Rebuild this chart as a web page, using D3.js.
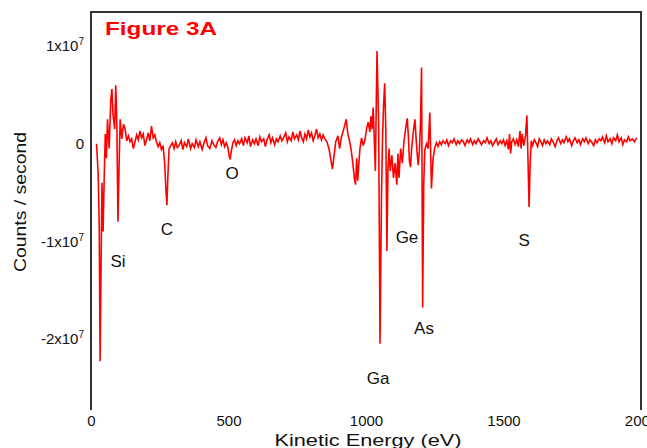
<!DOCTYPE html>
<html>
<head>
<meta charset="utf-8">
<script src="https://cdn.jsdelivr.net/npm/d3@7"></script>
<style>
	body { margin: 0; background: #fff; }
	svg { display: block; font-family: "Liberation Sans", Arial, sans-serif; }
</style>
</head>
<body>
<svg width="647" height="448"></svg>
<script>
// spectrum, counts in units of 1e6 counts / second
var energy = [
	20, 26, 30, 33, 36, 40, 44, 48, 52, 56, 60, 66, 72, 76, 80, 86, 90, 94, 98, 102,
	106, 112, 118, 124, 130, 136, 142, 148, 154, 160, 166, 172, 178, 184, 190, 196, 202, 208, 214, 220,
	226, 232, 238, 244, 250, 256, 262, 268, 272, 276, 280, 284, 290, 296, 302, 308, 314, 320, 328, 334,
	340, 348, 354, 362, 368, 376, 382, 390, 396, 404, 410, 418, 424, 432, 440, 446, 454, 460, 468, 474,
	480, 486, 492, 498, 502, 506, 510, 516, 522, 528, 534, 540, 548, 554, 560, 568, 574, 580, 588, 594,
	600, 608, 614, 620, 628, 634, 640, 648, 654, 660, 668, 674, 680, 688, 694, 700, 708, 714, 720, 728,
	734, 740, 748, 754, 760, 766, 772, 778, 784, 790, 796, 802, 808, 814, 820, 826, 832, 838, 844, 850,
	858, 866, 872, 878, 884, 890, 898, 904, 910, 916, 922, 928, 934, 940, 946, 952, 958, 962, 966, 970,
	974, 978, 984, 990, 996, 1002, 1008, 1014, 1018, 1022, 1026, 1030, 1034, 1040, 1046, 1051, 1056, 1060, 1064, 1068,
	1072, 1076, 1080, 1084, 1088, 1094, 1100, 1106, 1112, 1116, 1120, 1126, 1132, 1138, 1144, 1150, 1154, 1158, 1162, 1166,
	1172, 1178, 1182, 1186, 1190, 1194, 1198, 1202, 1206, 1210, 1214, 1220, 1226, 1232, 1238, 1244, 1250, 1256, 1262, 1268,
	1274, 1280, 1288, 1294, 1300, 1308, 1314, 1320, 1328, 1334, 1340, 1348, 1354, 1360, 1368, 1374, 1380, 1388, 1394, 1400,
	1408, 1414, 1420, 1428, 1434, 1440, 1448, 1454, 1460, 1468, 1474, 1480, 1488, 1494, 1500, 1506, 1512, 1518, 1522, 1526,
	1530, 1536, 1542, 1548, 1554, 1560, 1564, 1568, 1574, 1580, 1585, 1589, 1593, 1597, 1601, 1606, 1612, 1618, 1624, 1630,
	1636, 1642, 1648, 1654, 1660, 1668, 1674, 1680, 1688, 1694, 1700, 1708, 1714, 1720, 1728, 1734, 1740, 1748, 1754, 1760,
	1768, 1774, 1780, 1788, 1794, 1800, 1808, 1814, 1820, 1828, 1834, 1840, 1848, 1854, 1860, 1868, 1874, 1880, 1888, 1894,
	1900, 1908, 1914, 1920, 1928, 1934, 1940, 1948, 1954, 1960, 1968, 1976, 1984
];
var counts = [
	0.0, -3.0, -8.5, -22.3, -14.0, -4.0, -9.0, -3.5, 1.0, -1.5, 2.5, -0.5, 4.5, 5.6, 3.0, 1.5, 6.0, 2.0, -8.0, -2.5,
	2.5, 0.5, 2.0, 1.5, 0.3, 0.8, 0.2, 0.5, -0.5, 0.2, 0.9, 0.4, 1.3, 0.6, 1.0, -0.2, 0.4, 1.1, 0.3, 1.8,
	0.6, 0.9, 0.2, -0.3, 0.1, -0.6, -0.2, -2.0, -4.5, -6.3, -3.0, -0.5, -0.2, 0.1, -0.5, 0.2, -0.4, -0.2, 0.3, -0.6,
	0.1, -0.3, 0.5, -0.5, 0.0, -0.4, 0.4, -0.3, 0.2, -0.6, 0.0, 0.6, -0.2, -0.5, 0.3, -0.1, -0.4, 0.2, 0.6, -0.1,
	0.4, -0.3, 0.1, -0.4, -1.2, -1.6, -0.8, 0.1, 0.4, -0.2, 0.3, 0.0, 0.5, -0.2, 0.6, 0.1, 0.8, -0.3, 0.4, 0.0,
	0.5, -0.2, 0.7, 0.2, 0.5, -0.3, 0.4, 0.9, 0.1, 0.6, -0.1, 0.5, 0.2, 0.8, 0.3, 0.6, 1.1, 0.2, 0.7, 0.3,
	1.2, 0.5, 0.9, 0.4, 1.3, 0.6, 0.2, 1.0, 0.5, 1.4, 0.7, 1.1, 0.3, 0.8, 1.5, 0.6, 1.0, 0.4, 0.9, 0.5,
	0.2, -0.6, -1.6, -2.6, -1.2, 0.2, 0.8, -0.5, 0.6, 1.2, 1.8, 2.5, 1.0, 0.3, -0.6, -2.0, -3.6, -4.2, -1.5, -3.8,
	-2.0, -0.5, 0.6, -0.2, 0.4, 1.5, 2.2, 1.2, 2.8, 1.5, 3.7, 0.5, -2.8, 9.5, 2.0, -20.5, -6.0, 0.5, 4.0, 6.2,
	1.5, -11.0, -2.5, -0.5, -2.8, -1.2, -3.5, -2.0, -4.2, -1.0, -3.5, -0.5, -2.0, 0.2, 1.5, 2.6, 0.8, -1.8, -2.4, -0.5,
	1.2, 2.5, 0.6, -1.0, -2.2, -0.8, 2.0, 7.8, -16.8, -4.0, -0.6, 0.0, -0.5, 3.2, -4.6, -1.5, -0.4, 0.1, -0.3, 0.2,
	-0.1, 0.3, 0.0, 0.4, -0.2, 0.3, 0.1, 0.5, -0.1, 0.3, 0.0, 0.4, 0.2, -0.2, 0.4, 0.1, 0.5, -0.1, 0.3, 0.0,
	0.5, 0.2, -0.1, 0.3, 0.1, 0.6, 0.0, 0.3, -0.2, 0.2, 0.5, -0.1, 0.3, 0.0, 0.4, -0.2, 0.3, -0.6, 1.0, -1.0,
	0.2, 0.5, -0.1, 0.4, -0.3, 1.3, -0.5, 1.0, -0.2, 0.8, 2.9, -1.5, -6.5, -2.0, 0.3, -0.2, 0.4, 0.1, -0.3, 0.5,
	0.2, -0.2, 0.4, 0.0, 0.3, -0.1, 0.5, 0.2, -0.3, 0.3, 0.6, 0.0, 0.4, 0.1, 0.7, 0.2, 0.5, -0.2, 0.3, 0.6,
	0.1, 0.4, -0.1, 0.5, 0.2, 0.6, 0.0, 0.4, 0.2, -0.2, 0.4, 0.1, 0.5, 0.3, 0.7, 0.1, 0.8, 0.2, 0.5, 0.0,
	0.6, 0.3, 0.9, 0.2, 0.6, -0.1, 0.4, 0.2, 0.7, 0.3, 0.5, 0.2, 0.6
];

// element labels sitting under their peaks
var peakNames = ['Si', 'C', 'O', 'Ga', 'Ge', 'As', 'S'];
var peakEnergy = [98, 276, 513, 1044, 1149, 1211, 1575];
var peakCounts = [-12.2, -8.9, -3.2, -24.2, -9.7, -19.1, -10.0];

var xTicks = [0, 500, 1000, 1500, 2000];
var yTicks = [10, 0, -10, -20];
var yTickLabels = ['1x10', '0', '-1x10', '-2x10'];

var svg = d3.select('svg'),
	plotLeft = 91, plotRight = 641, plotTop = 12, plotBottom = 410;

var x = d3.scaleLinear().domain([0, 2000]).range([plotLeft, plotRight]);
var y = d3.scaleLinear().domain([-27.3, 13.5]).range([plotBottom, plotTop]);

// frame (open at the bottom)
svg.append('path')
	.attr('d', 'M' + plotLeft + ',' + plotBottom + 'V' + plotTop + 'H' + plotRight + 'V' + plotBottom)
	.attr('fill', 'none')
	.attr('stroke', '#333')
	.attr('stroke-width', 2);

var xAxis = svg.append('g')
	.attr('transform', 'translate(0,' + plotBottom + ')')
	.call(d3.axisBottom(x).tickValues(xTicks).tickSize(0).tickPadding(5).tickFormat(d3.format('d')));
xAxis.select('.domain').remove();
xAxis.selectAll('text').attr('font-size', 15).attr('font-family', null).attr('fill', '#111');

var yAxis = svg.append('g')
	.attr('transform', 'translate(' + plotLeft + ',0)')
	.call(d3.axisLeft(y).tickValues(yTicks).tickSize(0).tickPadding(7));
yAxis.select('.domain').remove();
yAxis.selectAll('text')
	.attr('font-size', 15)
	.attr('font-family', null)
	.attr('fill', '#111')
	.each(function(d, i) {
		var t = d3.select(this).text(yTickLabels[i]);
		if (d !== 0) {
			t.append('tspan').attr('font-size', 10).attr('dy', '-0.6em').text('7');
		}
	});

var line = d3.line()
	.x(function(d, i) { return x(energy[i]); })
	.y(function(d) { return y(d); });

svg.append('path')
	.datum(counts)
	.attr('d', line)
	.attr('fill', 'none')
	.attr('stroke', '#ff0000')
	.attr('stroke-width', 1.6);

svg.append('g').selectAll('text')
	.data(peakNames)
	.enter().append('text')
	.attr('x', function(d, i) { return x(peakEnergy[i]); })
	.attr('y', function(d, i) { return y(peakCounts[i]); })
	.attr('text-anchor', 'middle')
	.attr('dominant-baseline', 'middle')
	.attr('font-size', 17)
	.attr('fill', '#111')
	.text(function(d) { return d; });

svg.append('text')
	.attr('x', 105)
	.attr('y', 35)
	.attr('font-size', 19)
	.attr('font-weight', 'bold')
	.attr('fill', '#ff0000')
	.attr('textLength', 112)
	.attr('lengthAdjust', 'spacingAndGlyphs')
	.text('Figure 3A');

svg.append('text')
	.attr('x', 368)
	.attr('y', 446)
	.attr('text-anchor', 'middle')
	.attr('font-size', 17)
	.attr('fill', '#111')
	.attr('textLength', 187)
	.attr('lengthAdjust', 'spacingAndGlyphs')
	.text('Kinetic Energy (eV)');

svg.append('text')
	.attr('transform', 'translate(26,202) rotate(-90)')
	.attr('text-anchor', 'middle')
	.attr('font-size', 16)
	.attr('fill', '#111')
	.attr('textLength', 140)
	.attr('lengthAdjust', 'spacingAndGlyphs')
	.text('Counts / second');
</script>
</body>
</html>
